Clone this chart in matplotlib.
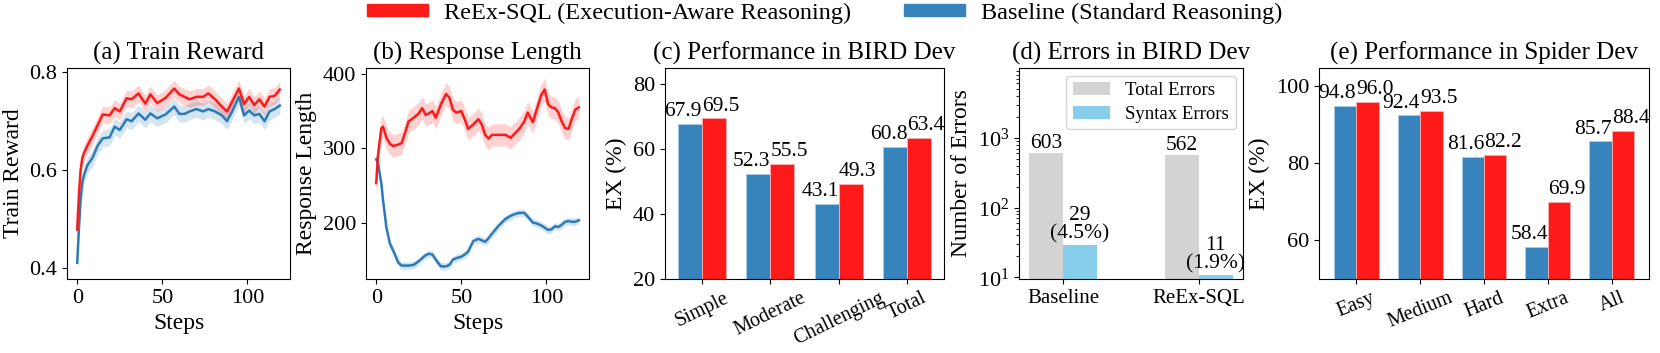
import matplotlib
matplotlib.use("Agg")
import matplotlib.pyplot as plt
from matplotlib.patches import Patch
import numpy as np

plt.rcParams['font.family'] = ['Liberation Serif', 'DejaVu Serif']
plt.rcParams['mathtext.fontset'] = 'stix'

RED = '#FF1A1A'
BLUE = '#3783BB'
LBLUE = '#2C7BB8'
GRAY = '#D3D3D3'
SKY = '#87CEEB'

# (a) Train reward
steps_a = [0, 1, 2, 3, 4, 6, 9, 12, 15, 19, 22, 25, 29, 32, 36, 40, 43, 47, 52, 57,
           60, 63, 66, 70, 74, 77, 81, 85, 88, 91, 95, 98, 101, 104, 107, 110, 113, 116, 119]
reward_reex = [0.478, 0.55, 0.60, 0.625, 0.635, 0.65, 0.67, 0.692, 0.714, 0.712,
               0.727, 0.72, 0.747, 0.745, 0.757, 0.736, 0.755, 0.737, 0.748, 0.767,
               0.755, 0.75, 0.745, 0.75, 0.75, 0.757, 0.745, 0.73, 0.72, 0.74,
               0.767, 0.735, 0.75, 0.733, 0.745, 0.73, 0.75, 0.752, 0.765]
reward_base = [0.41, 0.48, 0.54, 0.575, 0.59, 0.61, 0.625, 0.65, 0.665, 0.667,
               0.689, 0.682, 0.704, 0.70, 0.716, 0.703, 0.716, 0.706, 0.714, 0.73,
               0.715, 0.715, 0.72, 0.725, 0.72, 0.725, 0.72, 0.712, 0.70, 0.72,
               0.75, 0.712, 0.722, 0.712, 0.715, 0.70, 0.72, 0.725, 0.732]
reward_band = [0.017, 0.017]

# (b) Response length
steps_b = [0, 1, 3, 4, 6, 8, 10, 13, 15, 17, 19, 22, 25, 27, 29, 31, 33, 35, 38, 41,
           43, 45, 47, 50, 52, 54, 57, 60, 62, 64, 66, 68, 72, 76, 79, 81, 84, 87, 89, 92,
           94, 97, 99, 101, 103, 105, 107, 109, 111, 113, 115, 117, 119]
length_reex = [253, 290, 327, 329, 314, 306, 303, 305, 307, 321,
               336, 341, 347, 354, 345, 347, 350, 341, 359, 373,
               368, 352, 348, 350, 339, 326, 332, 339, 332, 318,
               313, 318, 318, 318, 314, 319, 326, 336, 348, 335,
               350, 372, 379, 359, 355, 354, 348, 336, 327, 326,
               340, 352, 355]
length_base = [285, 280, 253, 230, 193, 172, 162, 146, 142, 142,
               142, 143, 148, 152, 156, 158, 157, 150, 141, 141,
               143, 150, 152, 154, 157, 161, 175, 178, 176, 174,
               179, 185, 196, 205, 209, 211, 213, 213, 208, 200,
               199, 196, 193, 190, 191, 195, 194, 197, 201, 202,
               201, 201, 203]
length_band = [15, 5]

# (c) BIRD dev
bird_cats = ['Simple', 'Moderate', 'Challenging', 'Total']
bird_base = [67.9, 52.3, 43.1, 60.8]
bird_reex = [69.5, 55.5, 49.3, 63.4]

# (d) Errors
err_groups = ['Baseline', 'ReEx-SQL']
err_total = [603, 562]
err_syntax = [29, 11]
err_pct = ['4.5%', '1.9%']

# (e) Spider dev
spider_cats = ['Easy', 'Medium', 'Hard', 'Extra', 'All']
spider_base = [94.8, 92.4, 81.6, 58.4, 85.7]
spider_reex = [96.0, 93.5, 82.2, 69.9, 88.4]

W, H = 1660, 353
fig = plt.figure(figsize=(W / 100, H / 100), dpi=100)

def add_ax(x0, x1, top=68, bot=279):
    return fig.add_axes([x0 / W, 1 - bot / H, (x1 - x0) / W, (bot - top) / H])

TICK = 16
CATTICK = 14.5
LAB = 17
TIT = 18
ANN = 15.5

axa = add_ax(67, 290)
axb = add_ax(366, 589)
axc = add_ax(665, 944)
axd = add_ax(1019, 1243)
axe = add_ax(1319, 1649)

for ax in [axa, axb, axc, axd, axe]:
    ax.tick_params(axis='y', labelsize=TICK)
    ax.tick_params(axis='x', labelsize=TICK)

# (a)
xa = np.array(steps_a)
for vals, col, bw in [(reward_base, LBLUE, reward_band[1]), (reward_reex, RED, reward_band[0])]:
    v = np.array(vals)
    axa.fill_between(xa, v - bw, v + bw, color=col, alpha=0.2, lw=0)
    axa.plot(xa, v, color=col, lw=1.8)
axa.set_ylim(0.377, 0.809)
axa.set_xlim(-6, 125)
axa.set_yticks([0.4, 0.6, 0.8])
axa.set_xticks([0, 50, 100])
axa.set_xlabel('Steps', fontsize=LAB)
axa.set_ylabel('Train Reward', fontsize=LAB)
axa.set_title('(a) Train Reward', fontsize=TIT)

# (b)
xb = np.array(steps_b)
for vals, col, bw in [(length_base, LBLUE, length_band[1]), (length_reex, RED, length_band[0])]:
    v = np.array(vals)
    axb.fill_between(xb, v - bw, v + bw, color=col, alpha=0.2, lw=0)
    axb.plot(xb, v, color=col, lw=1.8)
axb.set_ylim(124, 408)
axb.set_xlim(-6, 125)
axb.set_yticks([200, 300, 400])
axb.set_xticks([0, 50, 100])
axb.set_xlabel('Steps', fontsize=LAB)
axb.set_ylabel('Response Length', fontsize=LAB)
axb.set_title('(b) Response Length', fontsize=TIT)

def grouped(ax, cats, base, reex, rot, w=0.35):
    x = np.arange(len(cats))
    ax.bar(x - w / 2, base, w, color=BLUE, edgecolor='#A9CBE6', linewidth=0.6)
    ax.bar(x + w / 2, reex, w, color=RED, edgecolor='#FFB0B0', linewidth=0.6)
    for xi, b, r in zip(x, base, reex):
        ax.annotate(f'{b:.1f}', (xi, b), xytext=(0, 2), textcoords='offset points',
                    ha='right', va='bottom', fontsize=ANN)
        ax.annotate(f'{r:.1f}', (xi, r), xytext=(0, 2), textcoords='offset points',
                    ha='left', va='bottom', fontsize=ANN)
    ax.set_xticks(x)
    ax.set_xticklabels(cats, rotation=rot, ha='center', fontsize=CATTICK)

grouped(axc, bird_cats, bird_base, bird_reex, 26)
axc.set_ylim(20, 85)
axc.set_yticks([20, 40, 60, 80])
axc.set_ylabel('EX (%)', fontsize=LAB)
axc.set_title('(c) Performance in BIRD Dev', fontsize=TIT)

# (d)
xd = np.arange(len(err_groups))
wd = 0.25
axd.bar(xd - wd / 2, err_total, wd, color=GRAY, label='Total Errors')
axd.bar(xd + wd / 2, err_syntax, wd, color=SKY, label='Syntax Errors')
for xi, t, s, p in zip(xd, err_total, err_syntax, err_pct):
    axd.annotate(f'{t}', (xi - wd / 2, t), xytext=(0, 0), textcoords='offset points',
                 ha='center', va='bottom', fontsize=ANN)
    axd.annotate(f'{s}\n({p})', (xi + wd / 2, s), xytext=(0, 1), textcoords='offset points',
                 ha='center', va='bottom', fontsize=ANN, linespacing=0.95)
axd.set_yscale('log')
axd.set_ylim(9.5, 1e4)
axd.set_yticks([10, 100, 1000])
axd.set_xticks(xd)
axd.set_xticklabels(err_groups, fontsize=15)
axd.set_ylabel('Number of Errors', fontsize=LAB)
axd.set_title('(d) Errors in BIRD Dev', fontsize=TIT)
axd.legend(loc='upper right', fontsize=13.5, labelspacing=0.35, borderpad=0.35,
           borderaxespad=0.4)

# (e)
grouped(axe, spider_cats, spider_base, spider_reex, 22)
axe.set_ylim(50, 104.7)
axe.set_yticks([60, 80, 100])
axe.set_ylabel('EX (%)', fontsize=LAB)
axe.set_title('(e) Performance in Spider Dev', fontsize=TIT)

handles = [Patch(color=RED, label='ReEx-SQL (Execution-Aware Reasoning)'),
           Patch(color=BLUE, label='Baseline (Standard Reasoning)')]
fig.legend(handles=handles, loc='center', bbox_to_anchor=(0.4967, 0.962), ncol=2,
           frameon=False, fontsize=17.5, handlelength=2.5, handleheight=0.37,
           handletextpad=0.65, columnspacing=2.2)

fig.savefig('out.png', dpi=100)
